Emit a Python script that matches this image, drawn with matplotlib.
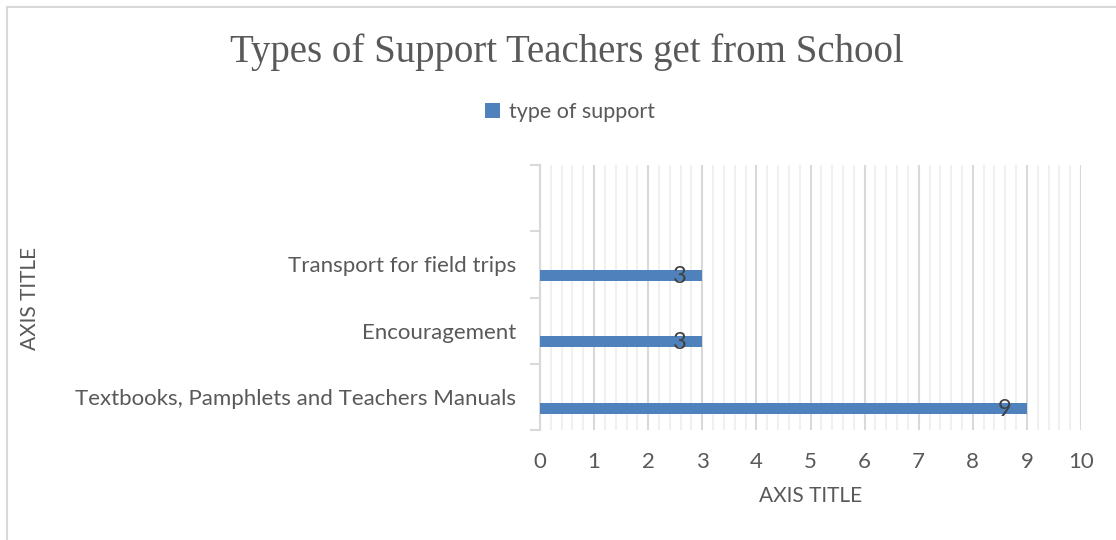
import numpy as np
import matplotlib
matplotlib.use("Agg")
import matplotlib.pyplot as plt
from matplotlib.lines import Line2D

categories = ["Textbooks, Pamphlets and Teachers Manuals", "Encouragement", "Transport for field trips", ""]
values = [9, 3, 3]
series_name = "type of support"
title = "Types of Support Teachers get from School"

bar_col = "#4f81bd"
txt_col = "#595959"

fig = plt.figure(figsize=(11.16, 5.4), dpi=100)
ax = fig.add_axes([540/1116, (540-430)/540, (1081-540)/1116, (430-165)/540])

ypos = np.arange(len(values)) - 0.17
bars = ax.barh(ypos, values, height=0.166, color=bar_col, zorder=3, label=series_name)
for b, v in zip(bars, values):
    ax.annotate(str(v), (b.get_width(), b.get_y() + b.get_height()/2),
                xytext=(-22, -1), textcoords="offset pixels", ha="center", va="center",
                fontsize=17, color="#404040", family="Lato", zorder=4)

ax.set_xlim(0, 10)
ax.set_ylim(-0.5, len(categories) - 0.5)
ax.set_xticks(range(0, 11))
ax.set_xticks(np.arange(0, 10.01, 0.2), minor=True)
ax.xaxis.grid(True, which="major", color="#d9d9d9", lw=1.5, zorder=1)
ax.xaxis.grid(True, which="minor", color="#f0f0f0", lw=1.5, zorder=0)
ax.tick_params(axis="x", which="both", length=0, labelsize=16, labelcolor=txt_col, pad=16)
for t in ax.get_xticklabels():
    t.set_family("Lato")

# category ticks between slots, labels at slot centres
ax.set_yticks(np.arange(-0.5, len(categories), 1.0))
ax.set_yticklabels([])
ax.set_yticks(range(len(categories)), minor=True)
ax.set_yticklabels(categories, minor=True, family="Lato", fontsize=16, color=txt_col)
ax.tick_params(axis="y", which="major", length=7, color="#d9d9d9", width=1.5)
ax.tick_params(axis="y", which="minor", length=0, pad=17)

for s in ["top", "right", "bottom"]:
    ax.spines[s].set_visible(False)
ax.spines["left"].set_color("#d9d9d9")
ax.spines["left"].set_linewidth(1.5)

ax.set_xlabel("AXIS TITLE", family="Lato", fontsize=15, color=txt_col, labelpad=10)
fig.text(30/1116, 1 - 298/540, "AXIS TITLE", rotation=90, ha="center", va="center",
         family="Lato", fontsize=15, color=txt_col)

fig.text(567/1116, 1 - 52/540, title, ha="center", va="center",
         family="Liberation Serif", fontsize=28, color=txt_col)

ax.legend(loc="center", bbox_to_anchor=(570/1116, 1 - 112/540), bbox_transform=fig.transFigure,
          frameon=False, prop={"family": "Lato", "size": 15.5}, labelcolor=txt_col,
          handlelength=0.7, handleheight=0.7, handletextpad=0.4)

# chart frame
fig.add_artist(Line2D([7/1116, 7/1116], [0, 1 - 7/540], transform=fig.transFigure, color="#d9d9d9", lw=1.5))
fig.add_artist(Line2D([7/1116, 1], [1 - 7/540, 1 - 7/540], transform=fig.transFigure, color="#d9d9d9", lw=1.5))

fig.savefig("out.png", dpi=100)
